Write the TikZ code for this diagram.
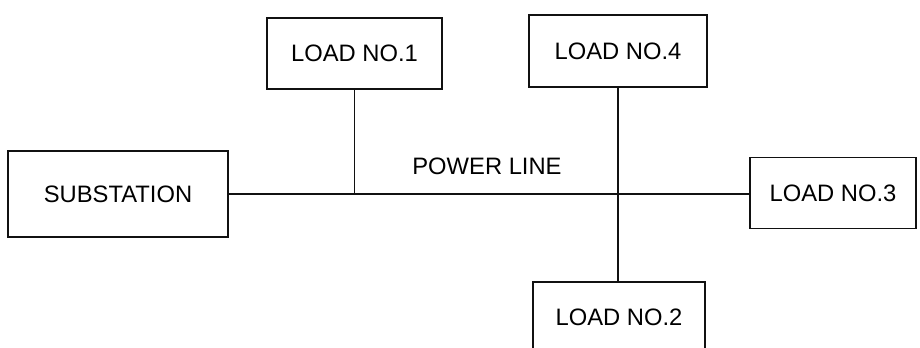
\documentclass[tikz,border=0pt]{standalone}
\usepackage{fontspec}
\setmainfont{Liberation Sans}
\usepackage{tikz}
\usetikzlibrary{positioning,calc}
\definecolor{pline}{HTML}{111111}
\tikzset{pbox/.style={rectangle, draw=pline, line width=1.4pt, fill=white, inner sep=0pt, align=center, font=\fontsize{16.9}{20}\selectfont}}
\tikzset{pwire/.style={draw=pline, line width=1.4pt}}
\tikzset{plabel/.style={font=\fontsize{16.9}{20}\selectfont, inner sep=0pt}}

\begin{document}
\begin{tikzpicture}[x=0.025cm, y=-0.025cm]
  \clip (0,0) rectangle (920,348);
  \fill[white] (0,0) rectangle (920,348);

  \node[pbox, minimum width=220*0.025cm, minimum height=86*0.025cm] (substation) at (118,194) {SUBSTATION};
  \node[pbox, minimum width=175*0.025cm, minimum height=71*0.025cm] (load1) at (354.5,53.5) {LOAD NO.1};
  \node[pbox, minimum width=178*0.025cm, minimum height=72*0.025cm] (load4) at (618,51) {LOAD NO.4};
  \node[pbox, minimum width=166*0.025cm, minimum height=71*0.025cm] (load3) at (833,193) {LOAD NO.3};
  \node[pbox, minimum width=172*0.025cm, minimum height=71*0.025cm] (load2) at (619,317.5) {LOAD NO.2};

  \node[plabel] (powerline) at (487,166) {POWER LINE};

  \draw[pwire] (substation.east) -- (substation.east -| load3.west);
  \draw[pwire] (load1.south) -- (load1.south |- substation.east);
  \draw[pwire] (load4.south) -- (load4.south |- load2.north);
\end{tikzpicture}
\end{document}
